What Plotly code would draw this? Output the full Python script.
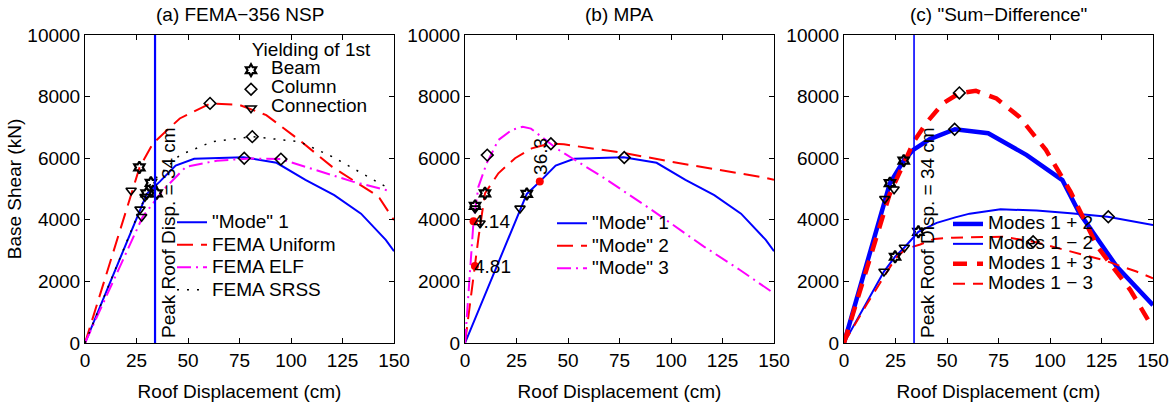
import plotly.graph_objects as go

FONT = "Liberation Sans, Arial, Helvetica, sans-serif"

# ---------------- data ----------------
X_TICKS = [0, 25, 50, 75, 100, 125, 150]
X_TICK_LABELS = ["0", "25", "50", "75", "100", "125", "150"]
Y_TICKS = [0, 2000, 4000, 6000, 8000, 10000]
Y_TICK_LABELS = ["0", "2000", "4000", "6000", "8000", "10000"]

PEAK_ROOF_DISP = 34  # cm

# "Mode" 1 pushover curve (used in panels a and b)
mode1_x = [0, 30, 36.3, 44, 53, 77, 93, 107, 121, 134, 146, 150]
mode1_y = [0, 4840, 5240, 5760, 5980, 6030, 5850, 5300, 4800, 4200, 3350, 2980]

# Panel (a) FEMA-356 NSP
uniform_x = [0, 22.6, 26.5, 33, 46, 61, 75, 88, 104, 120, 140, 143, 150]
uniform_y = [0, 4900, 5700, 6480, 7290, 7780, 7730, 7400, 6590, 5720, 4860, 4700, 3990]
elf_x = [0, 17, 28, 38, 49, 64, 80, 95, 112, 130, 147]
elf_y = [0, 2480, 4100, 4970, 5720, 5920, 5990, 5970, 5620, 5240, 4950]
srss_x = [0, 32, 46, 62, 81, 104, 120, 142, 148]
srss_y = [0, 5200, 6100, 6540, 6700, 6540, 6050, 5240, 5000]

a_beam_x = [26.4, 32, 29.9, 34.8]
a_beam_y = [5700, 5200, 4860, 4860]
a_column_x = [60.7, 81.2, 77.3, 95.1]
a_column_y = [7780, 6700, 6000, 5970]
a_conn_x = [22.4, 26.7, 27.5, 29.1]
a_conn_y = [4950, 4340, 4100, 4750]

# Panel (b) MPA
mode2_x = [0, 4.81, 6.5, 9.7, 16.2, 24.3, 32.4, 41.3, 48, 77, 109, 143, 150]
mode2_y = [0, 2500, 3400, 4860, 5510, 6000, 6320, 6480, 6450, 6170, 5780, 5400, 5300]
mode3_x = [0, 4.14, 6.5, 10.5, 16.2, 22.7, 28, 32, 45, 67, 90, 116, 133.5, 150]
mode3_y = [0, 3950, 5070, 5830, 6590, 6920, 7020, 6960, 6290, 5380, 4350, 3130, 2370, 1610]

b_beam_x = [9.7, 30, 4.9]
b_beam_y = [4860, 4840, 4450]
b_column_x = [10.8, 41.7, 77.3]
b_column_y = [6100, 6470, 6020]
b_conn_x = [4.9, 7.3, 26.7]
b_conn_y = [4370, 3890, 4370]

peak_x = [4.14, 4.81, 36.3]
peak_y = [3950, 2500, 5240]

# Panel (c) "Sum-Difference"
m1p2_x = [0, 19.9, 22.3, 29, 33.6, 41.7, 53.9, 70, 88.7, 106, 114, 132.4, 150]
m1p2_y = [0, 4750, 5190, 5920, 6270, 6620, 6940, 6810, 6100, 5290, 4250, 2480, 1230]
m1m2_x = [0, 19.4, 24.8, 29.3, 36.1, 45, 54, 61, 76, 93.5, 110, 128, 150]
m1m2_y = [0, 2320, 2800, 3100, 3610, 3900, 4080, 4200, 4340, 4300, 4210, 4100, 3830]
m1p3_x = [0, 22, 25, 30, 34, 40, 48, 56, 64, 74, 85, 98, 110, 123, 139, 150]
m1p3_y = [0, 4800, 5250, 5950, 6550, 7150, 7780, 8110, 8190, 7940, 7350, 6270, 4910, 3130, 1720, 480]
m1m3_x = [0, 11, 25, 30, 37, 44, 53, 77, 92, 110, 126, 142, 150]
m1m3_y = [0, 1250, 2750, 3050, 3200, 3380, 3420, 3450, 3290, 2960, 2690, 2320, 2100]

c_beam_x = [22.3, 29, 24.8, 36.1]
c_beam_y = [5190, 5920, 2800, 3610]
c_column_x = [53.7, 56, 128.3, 91.8]
c_column_y = [6940, 8120, 4100, 3290]
c_conn_x = [19.8, 24.3, 19.4, 29.3]
c_conn_y = [4680, 4990, 2320, 3100]

# ---------------- figure ----------------
W, H = 1172, 402
fig = go.Figure()


def legend_name(s):
    return '<span style="font-size:19px">' + s + '</span>'


def add_line(x, y, name, color, width, dash, xa, ya, legend):
    fig.add_trace(go.Scatter(
        x=x, y=y, mode="lines", name=legend_name(name),
        line=dict(color=color, width=width, dash=dash),
        xaxis=xa, yaxis=ya, legend=legend, showlegend=True,
        hoverinfo="skip"))


def add_markers(x, y, symbol, xa, ya, name=None, show=False, lw=1.6, size=9):
    fig.add_trace(go.Scatter(
        x=x, y=y, mode="markers", name=legend_name(name) if name else "",
        marker=dict(symbol=symbol, size=size, color="black",
                    line=dict(color="black", width=lw)),
        xaxis=xa, yaxis=ya, legend="legend4", showlegend=show,
        hoverinfo="skip", cliponaxis=False))


BLUE = "#0000ff"
RED = "#ff0000"
MAG = "#ff00ff"
STAR = "hexagram-open"
DIAM = "diamond-open"
TRI = "triangle-down-open"

# panel a
add_line(mode1_x, mode1_y, '"Mode" 1', BLUE, 2, "solid", "x", "y", "legend")
add_line(uniform_x, uniform_y, "FEMA Uniform", RED, 2, "16px,8px", "x", "y", "legend")
add_line(elf_x, elf_y, "FEMA ELF", MAG, 2, "14px,5px,2px,5px", "x", "y", "legend")
add_line(srss_x, srss_y, "FEMA SRSS", "black", 1.5, "2px,8px", "x", "y", "legend")
add_markers(a_beam_x, a_beam_y, STAR, "x", "y", "Beam", True, lw=2.2, size=9)
add_markers(a_column_x, a_column_y, DIAM, "x", "y", "Column", True)
add_markers(a_conn_x, a_conn_y, TRI, "x", "y", "Connection", True)

# panel b
add_line(mode1_x, mode1_y, '"Mode" 1', BLUE, 2, "solid", "x2", "y2", "legend2")
add_line(mode2_x, mode2_y, '"Mode" 2', RED, 2, "16px,8px", "x2", "y2", "legend2")
add_line(mode3_x, mode3_y, '"Mode" 3', MAG, 2, "14px,5px,2px,5px", "x2", "y2", "legend2")
add_markers(b_beam_x, b_beam_y, STAR, "x2", "y2", lw=2.2, size=9)
add_markers(b_column_x, b_column_y, DIAM, "x2", "y2")
add_markers(b_conn_x, b_conn_y, TRI, "x2", "y2")
fig.add_trace(go.Scatter(x=peak_x, y=peak_y, mode="markers",
                         marker=dict(symbol="circle", size=8, color=RED),
                         xaxis="x2", yaxis="y2", showlegend=False,
                         hoverinfo="skip"))

# panel c
add_line(m1p2_x, m1p2_y, "Modes 1 + 2", BLUE, 4.5, "solid", "x3", "y3", "legend3")
add_line(m1m2_x, m1m2_y, "Modes 1 \u2212 2", BLUE, 2, "solid", "x3", "y3", "legend3")
add_line(m1p3_x, m1p3_y, "Modes 1 + 3", RED, 4.5, "14px,10px", "x3", "y3", "legend3")
add_line(m1m3_x, m1m3_y, "Modes 1 \u2212 3", RED, 2, "12px,8px", "x3", "y3", "legend3")
add_markers(c_beam_x, c_beam_y, STAR, "x3", "y3", lw=2.2, size=9)
add_markers(c_column_x, c_column_y, DIAM, "x3", "y3")
add_markers(c_conn_x, c_conn_y, TRI, "x3", "y3")

# vertical peak roof displacement lines
fig.add_shape(type="line", xref="x", yref="y domain", x0=PEAK_ROOF_DISP,
              x1=PEAK_ROOF_DISP, y0=0, y1=1, line=dict(color=BLUE, width=2.2))
fig.add_shape(type="line", xref="x3", yref="y3 domain", x0=PEAK_ROOF_DISP,
              x1=PEAK_ROOF_DISP, y0=0, y1=1, line=dict(color=BLUE, width=1.6))

# ---------------- layout ----------------
top_px, bot_px = 35, 343
ydom = [1 - bot_px / H, 1 - top_px / H]
xdoms = [[85 / W, 394 / W], [465 / W, 774 / W], [844 / W, 1153 / W]]

axfont = dict(family=FONT, size=19, color="black")
common = dict(showline=True, linecolor="black", linewidth=1, mirror="ticks",
              ticks="inside", ticklen=5, tickwidth=1, tickcolor="black",
              showgrid=False, zeroline=False, tickfont=axfont,
              automargin=False, fixedrange=True)

layout = dict(
    width=W, height=H, margin=dict(l=0, r=0, t=0, b=0),
    paper_bgcolor="white", plot_bgcolor="white",
    font=dict(family=FONT, size=19, color="black"),
)
for i, suf in enumerate(["", "2", "3"]):
    layout["xaxis" + suf] = dict(
        common, domain=xdoms[i], range=[0, 150], tickmode="array",
        tickvals=X_TICKS, ticktext=X_TICK_LABELS, anchor="y" + suf,
        title=dict(text="Roof Displacement (cm)", font=axfont, standoff=14))
    layout["yaxis" + suf] = dict(
        common, domain=ydom, range=[0, 10000], tickmode="array",
        tickvals=Y_TICKS, ticktext=Y_TICK_LABELS, anchor="x" + suf)
layout["yaxis"]["title"] = dict(text="Base Shear (kN)", font=axfont, standoff=0)

legbase = dict(bgcolor="rgba(0,0,0,0)", borderwidth=0, xanchor="left",
               yanchor="top", tracegroupgap=0)
layout["legend"] = dict(legbase, x=172 / W, y=1 - 206 / H,
                        font=dict(family=FONT, size=15, color="black"))
layout["legend2"] = dict(legbase, x=552 / W, y=1 - 207 / H,
                         font=dict(family=FONT, size=15, color="black"))
layout["legend3"] = dict(legbase, x=948 / W, y=1 - 209 / H,
                         font=dict(family=FONT, size=13, color="black"))
layout["legend4"] = dict(legbase, x=231 / W, y=1 - 31 / H,
                         font=dict(family=FONT, size=10, color="black"),
                         title=dict(text="Yielding of 1st", side="top right",
                                    font=dict(family=FONT, size=19, color="black")))
fig.update_layout(**layout)

# titles
titles = ["(a) FEMA\u2212356 NSP", "(b) MPA", '(c) "Sum\u2212Difference"']
for i, t in enumerate(titles):
    fig.add_annotation(text=t, xref="paper", yref="paper",
                       x=(xdoms[i][0] + xdoms[i][1]) / 2, y=1 - 15 / H,
                       xanchor="center", yanchor="middle", showarrow=False,
                       font=axfont)

# peak roof displacement labels
peak_label = "Peak Roof Disp. = %g cm" % PEAK_ROOF_DISP
for xr, yr in [("x", "y"), ("x3", "y3")]:
    fig.add_annotation(text=peak_label, xref=xr, yref=yr, x=PEAK_ROOF_DISP,
                       y=0, xanchor="left", yanchor="bottom", textangle=-90,
                       showarrow=False, font=axfont, xshift=1, yshift=3)

# MPA peak labels
for k, (px, py) in enumerate(zip(peak_x, peak_y)):
    if k < 2:
        fig.add_annotation(text="%g" % px, xref="x2", yref="y2", x=px, y=py,
                           xanchor="left", yanchor="middle", showarrow=False,
                           font=axfont, xshift=-3)
    else:
        fig.add_annotation(text="%g" % px, xref="x2", yref="y2", x=px, y=py,
                           xanchor="center", yanchor="bottom", textangle=-90,
                           showarrow=False, font=axfont, yshift=5)

fig.write_html(
    "out.html",
    config={"displayModeBar": False, "staticPlot": False},
    post_script="document.body.style.margin='0px';"
                "document.body.style.overflow='hidden';")
